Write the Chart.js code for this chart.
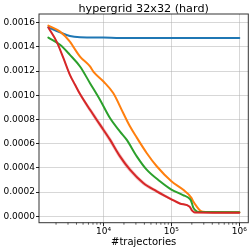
<!DOCTYPE html>
<html><head><meta charset="utf-8">
<script src="https://cdn.jsdelivr.net/npm/chart.js@4/dist/chart.umd.min.js"></script>
<style>html,body{margin:0;padding:0;background:#fff;overflow:hidden}canvas{display:block}</style>
</head><body>
<canvas id="c" width="252" height="251" style="width:252px;height:251px"></canvas>
<script>
const chartTitle = 'hypergrid 32x32 (hard)';
const xLabel = '#trajectories';
const xTickValues = [1e4, 1e5, 1e6];
const xTickLabels = ['10⁴', '10⁵', '10⁶'];
const yTickValues = [0, 0.0002, 0.0004, 0.0006, 0.0008, 0.0010, 0.0012, 0.0014, 0.0016];

const blueX = [1540, 2290, 3200, 4510, 10000, 17500, 100000, 1000000];
const blueY = [0.001562, 0.00152, 0.00149, 0.00148, 0.001477, 0.001474, 0.001473, 0.001473];

const orangeX = [1540, 2290, 3200, 3600, 4510, 6330, 7080, 10000, 13900, 19500, 24500, 30900, 43200, 60800, 100000, 148000, 197000, 209000, 234000, 262000, 293000, 437000, 1000000];
const orangeY = [0.001576, 0.001526, 0.001444, 0.0014, 0.00132, 0.001238, 0.001196, 0.001114, 0.001018, 0.000853, 0.000743, 0.00065, 0.000523, 0.000413, 0.000289, 0.00022, 0.000152, 0.000124, 0.000083, 0.00005, 0.000036, 0.000033, 0.000033];

const greenX = [1540, 2290, 3200, 4510, 6330, 8870, 12450, 17500, 21900, 30900, 43200, 67800, 100000, 148000, 186000, 194000, 203000, 211000, 234000, 262000, 1000000];
const greenY = [0.001477, 0.001417, 0.001334, 0.001238, 0.0011, 0.000963, 0.000812, 0.0007, 0.000633, 0.000495, 0.000385, 0.000289, 0.00022, 0.000175, 0.000145, 0.00013, 0.000097, 0.000069, 0.000041, 0.000034, 0.000033];

const redX = [1540, 2040, 2570, 3200, 3810, 4510, 6330, 8870, 12450, 17500, 24500, 38500, 60800, 100000, 133000, 186000, 197000, 209000, 222000, 1000000];
const redY = [0.00156, 0.001444, 0.001307, 0.001169, 0.001087, 0.00101, 0.00088, 0.000757, 0.000633, 0.000495, 0.000385, 0.000275, 0.000206, 0.00014, 0.000105, 0.000078, 0.000055, 0.000038, 0.00003, 0.000028];
const redHigh = [0.001572, 0.001458, 0.001321, 0.001184, 0.001103, 0.001028, 0.000903, 0.000782, 0.00066, 0.000522, 0.000409, 0.000294, 0.00022, 0.000151, 0.000114, 0.000085, 0.000061, 0.000043, 0.000034, 0.000031];
const redLow = [0.001548, 0.00143, 0.001293, 0.001154, 0.001071, 0.000992, 0.000857, 0.000732, 0.000606, 0.000468, 0.000361, 0.000256, 0.000192, 0.000129, 0.000096, 0.000071, 0.000049, 0.000033, 0.000026, 0.000025];

const FONT = 'DejaVu Sans';
const pts = (xs, ys) => xs.map((x, i) => ({x: x, y: ys[i]}));

const spinePlugin = {
  id: 'spines',
  afterDatasetsDraw(chart) {
    const {ctx, chartArea: a, scales} = chart;
    ctx.save();
    ctx.strokeStyle = 'rgba(0,0,0,0.8)';
    ctx.lineWidth = 1;
    ctx.strokeRect(a.left, a.top, a.right - a.left, a.bottom - a.top);
    ctx.lineWidth = 0.8;
    for (let e = 3; e <= 5; e++) {
      for (let m = 2; m <= 9; m++) {
        const v = m * Math.pow(10, e);
        const px = scales.x.getPixelForValue(v);
        if (px < a.left || px > a.right) continue;
        ctx.beginPath();
        ctx.moveTo(px, a.bottom);
        ctx.lineTo(px, a.bottom + 2);
        ctx.stroke();
      }
    }
    ctx.restore();
  },
  afterDraw(chart) {
    const {ctx, chartArea: a} = chart;
    ctx.save();
    ctx.fillStyle = '#000';
    ctx.font = '11.2px "' + FONT + '"';
    ctx.textAlign = 'center';
    ctx.textBaseline = 'alphabetic';
    ctx.fillText(chartTitle, (a.left + a.right) / 2, 11.5);
    ctx.restore();
  }
};

const lineDs = (xs, ys, color) => ({
  data: pts(xs, ys), borderColor: color, borderWidth: 2, fill: false,
  cubicInterpolationMode: 'monotone'
});

new Chart(document.getElementById('c'), {
  type: 'line',
  data: {
    datasets: [
      lineDs(redX, redY, '#d62728'),
      lineDs(greenX, greenY, '#2ca02c'),
      lineDs(orangeX, orangeY, '#ff7f0e'),
      lineDs(blueX, blueY, '#1f77b4'),
      {data: pts(redX, redHigh), borderWidth: 0, borderColor: 'rgba(0,0,0,0)', backgroundColor: 'rgba(214,39,40,0.25)', fill: '+1', cubicInterpolationMode: 'monotone'},
      {data: pts(redX, redLow), borderWidth: 0, borderColor: 'rgba(0,0,0,0)', backgroundColor: 'rgba(214,39,40,0.25)', fill: false, cubicInterpolationMode: 'monotone'}
    ]
  },
  options: {
    responsive: false,
    animation: false,
    devicePixelRatio: 1,
    layout: {padding: {top: 14, right: 3.7, bottom: 0, left: 0}},
    plugins: {legend: {display: false}, tooltip: {enabled: false}, title: {display: false}},
    elements: {point: {radius: 0}, line: {borderCapStyle: 'round', borderJoinStyle: 'round'}},
    scales: {
      x: {
        type: 'logarithmic',
        min: 1122, max: 1357000,
        afterBuildTicks: s => { s.ticks = xTickValues.map(v => ({value: v})); },
        afterFit: s => { s.height = 28.3; },
        ticks: {
          autoSkip: false, maxRotation: 0, minRotation: 0, padding: 0, color: '#000',
          font: {family: FONT, size: 9},
          callback: v => { const i = xTickValues.indexOf(v); return i >= 0 ? xTickLabels[i] : ''; }
        },
        grid: {color: 'rgba(176,176,176,0.5)', lineWidth: 1, tickLength: 3.5, tickColor: '#222', drawTicks: true},
        border: {display: false},
        title: {display: true, text: xLabel, color: '#000', font: {family: FONT, size: 10}, padding: {top: 0, bottom: 3}}
      },
      y: {
        type: 'linear',
        min: -0.0000537, max: 0.001672,
        afterBuildTicks: s => { s.ticks = yTickValues.map(v => ({value: v})); },
        afterFit: s => { s.width = 39; },
        ticks: {
          padding: 1, color: '#000', font: {family: FONT, size: 9},
          callback: v => v.toFixed(4)
        },
        grid: {color: 'rgba(176,176,176,0.5)', lineWidth: 1, tickLength: 3, tickColor: '#222', drawTicks: true},
        border: {display: false}
      }
    }
  },
  plugins: [spinePlugin]
});
</script>
</body></html>
